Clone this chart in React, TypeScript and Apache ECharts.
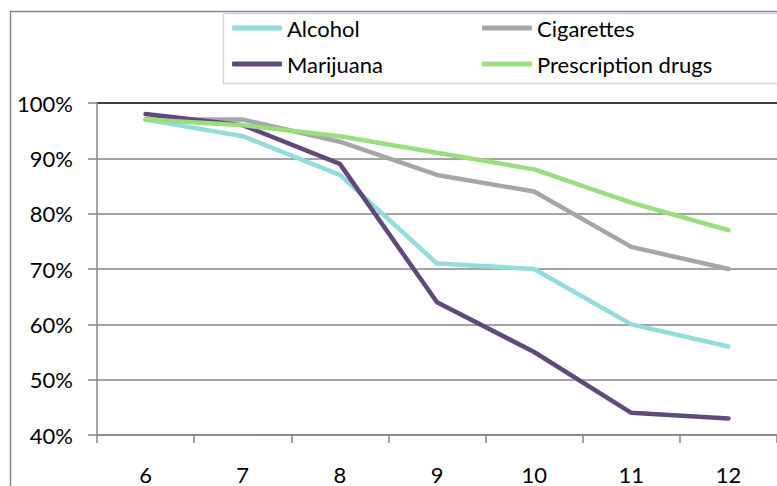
import React, { useEffect, useRef } from "react";
import * as echarts from "echarts";

const grades = ["6", "7", "8", "9", "10", "11", "12"];
const alcohol = [97, 94, 87, 71, 70, 60, 56];
const cigarettes = [97, 97, 93, 87, 84, 74, 70];
const marijuana = [98, 96, 89, 64, 55, 44, 43];
const prescription = [97, 96, 94, 91, 88, 82, 77];

const FONT = "Lato, 'Open Sans', sans-serif";

export default function App() {
  const ref = useRef<HTMLDivElement>(null);
  useEffect(() => {
    const chart = echarts.init(ref.current!, null, { renderer: "svg" });
    const mk = (name: string, data: number[], color: string) => ({
      name,
      type: "line",
      data,
      symbol: "none",
      lineStyle: { color, width: 4.5, cap: "round", join: "round" },
      itemStyle: { color },
    });
    const legendBase = {
      orient: "vertical",
      top: 12,
      icon: "roundRect",
      itemWidth: 50,
      itemHeight: 5,
      itemGap: 14,
      textStyle: { fontSize: 22, lineHeight: 22, color: "#000", fontFamily: FONT },
    };
    chart.setOption({
      animation: false,
      backgroundColor: "#fff",
      textStyle: { fontFamily: FONT },
      grid: { left: 97, top: 103, width: 682, height: 332, containLabel: false },
      legend: [
        { ...legendBase, data: ["Alcohol", "Marijuana"], left: 227 },
        { ...legendBase, data: ["Cigarettes", "Prescription drugs"], left: 477 },
      ],
      graphic: [
        {
          type: "rect",
          shape: { x: 10.5, y: 11.5, width: 800, height: 500 },
          style: { fill: "none", stroke: "#868686", lineWidth: 1.5 },
          z: -10,
        },
        {
          type: "rect",
          shape: { x: 223.5, y: 13.5, width: 580, height: 70 },
          style: { fill: "none", stroke: "#c9d6ee", lineWidth: 1.5 },
          z: -10,
        },
      ],
      xAxis: {
        type: "category",
        data: grades,
        boundaryGap: true,
        axisLine: { show: true, lineStyle: { color: "#868686", width: 1.5 } },
        axisTick: { show: true, alignWithLabel: false, length: 8, lineStyle: { color: "#868686", width: 1.5 } },
        axisLabel: { fontSize: 22, color: "#000", margin: 28, fontFamily: FONT },
        splitLine: { show: false },
      },
      yAxis: {
        type: "value",
        min: 40,
        max: 100,
        interval: 10,
        axisLine: { show: true, lineStyle: { color: "#868686", width: 1.5 } },
        axisTick: { show: true, inside: false, length: 9, lineStyle: { color: "#868686", width: 1.5 } },
        axisLabel: { fontSize: 22, color: "#000", margin: 24, formatter: "{value}%", fontFamily: FONT },
        splitLine: {
          show: true,
          lineStyle: {
            color: ["#868686", "#868686", "#868686", "#868686", "#868686", "#868686", "#000"],
            width: 1.5,
          },
        },
      },
      series: [
        mk("Alcohol", alcohol, "#93dcdc"),
        mk("Cigarettes", cigarettes, "#a6a6a6"),
        mk("Marijuana", marijuana, "#604a7b"),
        mk("Prescription drugs", prescription, "#9bde7e"),
      ],
    });
    return () => chart.dispose();
  }, []);
  return (
    <div
      ref={ref}
      style={{ position: "fixed", left: 0, top: 0, width: 777, height: 486, background: "#fff" }}
    />
  );
}
